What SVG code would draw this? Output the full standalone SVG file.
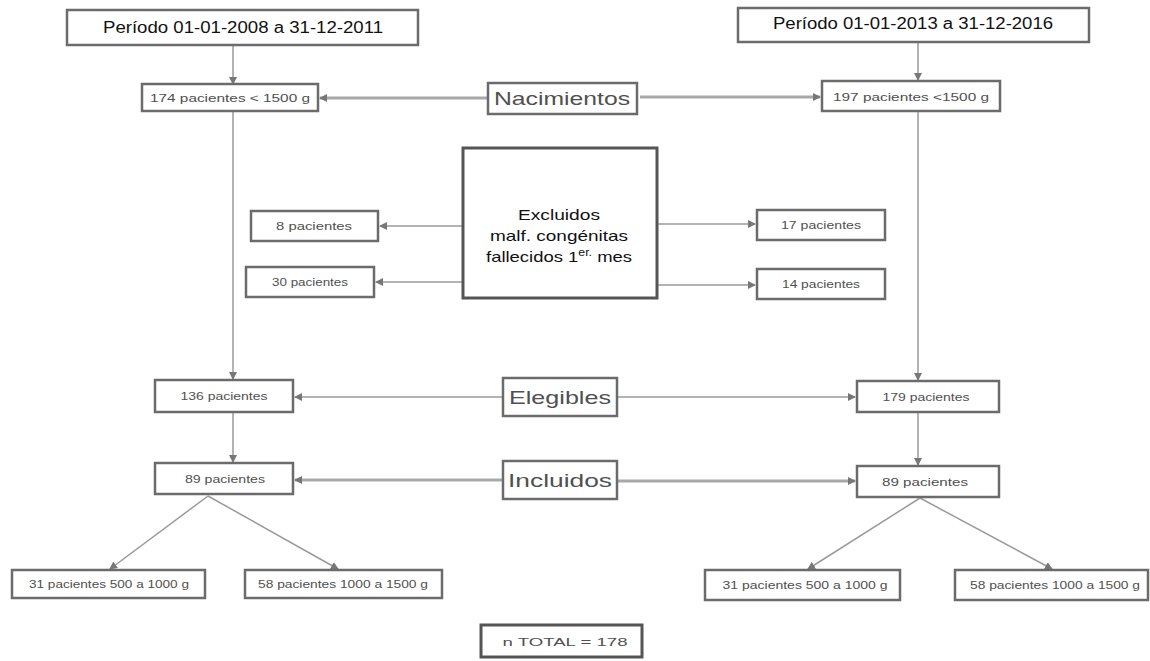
<svg xmlns="http://www.w3.org/2000/svg" width="1150" height="661" viewBox="0 0 1150 661">
<style>
.box{fill:#fff;stroke:#6b6b6b;stroke-width:2.5}
.big{fill:#fff;stroke:#555;stroke-width:3}
.t{font-family:"Liberation Sans",Arial,sans-serif;font-size:11px;fill:#505050;text-anchor:middle}
.tl{font-family:"Liberation Sans",Arial,sans-serif;font-size:19px;fill:#505050;text-anchor:middle}
.h{font-family:"Liberation Sans",Arial,sans-serif;font-size:16px;fill:#111;text-anchor:middle}
.c{font-family:"Liberation Sans",Arial,sans-serif;font-size:15px;fill:#111;text-anchor:middle}
.ln{stroke:#9a9a9a;stroke-width:1.5;fill:none}
.lnb{stroke:#a8a8a8;stroke-width:3;fill:none}
</style>
<defs>
<marker id="a" markerWidth="8" markerHeight="8" refX="7" refY="4" orient="auto" markerUnits="userSpaceOnUse">
<path d="M0,0 L8,4 L0,8 Z" fill="#777"/>
</marker>
</defs>
<g id="connectors">
<path class="ln" d="M233,46 V84" marker-end="url(#a)"/>
<path class="ln" d="M918,43 V80" marker-end="url(#a)"/>
<path class="lnb" d="M487,98 H320" marker-end="url(#a)"/>
<path class="lnb" d="M640,97 H820" marker-end="url(#a)"/>
<path class="ln" d="M462,226 H380" marker-end="url(#a)"/>
<path class="ln" d="M462,282 H376" marker-end="url(#a)"/>
<path class="ln" d="M658,224 H755" marker-end="url(#a)"/>
<path class="ln" d="M658,285 H755" marker-end="url(#a)"/>
<path class="ln" d="M233,111 V379" marker-end="url(#a)"/>
<path class="ln" d="M918,112 V380" marker-end="url(#a)"/>
<path class="ln" d="M502,397 H295" marker-end="url(#a)"/>
<path class="ln" d="M618,397 H855" marker-end="url(#a)"/>
<path class="ln" d="M233,413 V462" marker-end="url(#a)"/>
<path class="ln" d="M918,413 V465" marker-end="url(#a)"/>
<path class="lnb" d="M502,480 H295" marker-end="url(#a)"/>
<path class="lnb" d="M618,481 H855" marker-end="url(#a)"/>
<path class="ln" d="M208,496 L110,569" marker-end="url(#a)"/>
<path class="ln" d="M208,496 L338,569" marker-end="url(#a)"/>
<path class="ln" d="M920,498 L808,569" marker-end="url(#a)"/>
<path class="ln" d="M920,498 L1052,569" marker-end="url(#a)"/>
</g>
<g id="p1"><rect class="box" x="67" y="10" width="351" height="35"/><text class="h" x="243" y="33" textLength="280" lengthAdjust="spacingAndGlyphs">Período 01-01-2008 a 31-12-2011</text></g>
<g id="p2"><rect class="box" x="738" y="8" width="351" height="34"/><text class="h" x="913" y="29" textLength="280" lengthAdjust="spacingAndGlyphs">Período 01-01-2013 a 31-12-2016</text></g>
<g id="n1"><rect class="box" x="142" y="84" width="176" height="27"/><text class="t" x="230" y="102" textLength="160" lengthAdjust="spacingAndGlyphs">174 pacientes &lt; 1500 g</text></g>
<g id="nac"><rect class="box" x="488" y="83" width="149" height="31"/><text class="tl" x="562" y="105" textLength="136" lengthAdjust="spacingAndGlyphs">Nacimientos</text></g>
<g id="n2"><rect class="box" x="822" y="81" width="178" height="30"/><text class="t" x="911" y="101" textLength="156" lengthAdjust="spacingAndGlyphs">197 pacientes &lt;1500 g</text></g>
<g id="exc"><rect class="big" x="463" y="148" width="194" height="150"/>
<text class="c" x="559" y="220" textLength="82" lengthAdjust="spacingAndGlyphs">Excluidos</text>
<text class="c" x="559" y="241" textLength="138" lengthAdjust="spacingAndGlyphs">malf. congénitas</text>
<text class="c" x="559" y="262" textLength="146" lengthAdjust="spacingAndGlyphs">fallecidos 1<tspan font-size="10" dy="-6">er.</tspan><tspan dy="6"> mes</tspan></text></g>
<g id="e1"><rect class="box" x="251" y="211" width="127" height="30"/><text class="t" x="314" y="230" textLength="76" lengthAdjust="spacingAndGlyphs">8 pacientes</text></g>
<g id="e2"><rect class="box" x="246" y="267" width="128" height="30"/><text class="t" x="310" y="286" textLength="76" lengthAdjust="spacingAndGlyphs">30 pacientes</text></g>
<g id="e3"><rect class="box" x="757" y="210" width="128" height="30"/><text class="t" x="821" y="229" textLength="80" lengthAdjust="spacingAndGlyphs">17 pacientes</text></g>
<g id="e4"><rect class="box" x="757" y="269" width="128" height="30"/><text class="t" x="821" y="288" textLength="78" lengthAdjust="spacingAndGlyphs">14 pacientes</text></g>
<g id="el1"><rect class="box" x="155" y="380" width="138" height="32"/><text class="t" x="224" y="400" textLength="87" lengthAdjust="spacingAndGlyphs">136 pacientes</text></g>
<g id="eleg"><rect class="box" x="503" y="378" width="114" height="38"/><text class="tl" x="560" y="404" textLength="102" lengthAdjust="spacingAndGlyphs">Elegibles</text></g>
<g id="el2"><rect class="box" x="857" y="381" width="142" height="31"/><text class="t" x="926" y="401" textLength="87" lengthAdjust="spacingAndGlyphs">179 pacientes</text></g>
<g id="in1"><rect class="box" x="155" y="463" width="138" height="31"/><text class="t" x="225" y="483" textLength="80" lengthAdjust="spacingAndGlyphs">89 pacientes</text></g>
<g id="incl"><rect class="box" x="503" y="461" width="114" height="38"/><text class="tl" x="560" y="487" textLength="104" lengthAdjust="spacingAndGlyphs">Incluidos</text></g>
<g id="in2"><rect class="box" x="857" y="466" width="142" height="31"/><text class="t" x="925" y="486" textLength="86" lengthAdjust="spacingAndGlyphs">89 pacientes</text></g>
<g id="b1"><rect class="box" x="12" y="570" width="193" height="28"/><text class="t" x="109" y="588" textLength="160" lengthAdjust="spacingAndGlyphs">31 pacientes 500 a 1000 g</text></g>
<g id="b2"><rect class="box" x="245" y="570" width="197" height="28"/><text class="t" x="343" y="588" textLength="170" lengthAdjust="spacingAndGlyphs">58 pacientes 1000 a 1500 g</text></g>
<g id="b3"><rect class="box" x="705" y="570" width="195" height="30"/><text class="t" x="805" y="589" textLength="165" lengthAdjust="spacingAndGlyphs">31 pacientes 500 a 1000 g</text></g>
<g id="b4"><rect class="box" x="955" y="570" width="193" height="30"/><text class="t" x="1055" y="589" textLength="170" lengthAdjust="spacingAndGlyphs">58 pacientes 1000 a 1500 g</text></g>
<g id="tot"><rect class="big" x="481" y="625" width="161" height="32"/><text class="t" x="565" y="646" font-size="12" textLength="125" lengthAdjust="spacingAndGlyphs">n TOTAL = 178</text></g>
</svg>
